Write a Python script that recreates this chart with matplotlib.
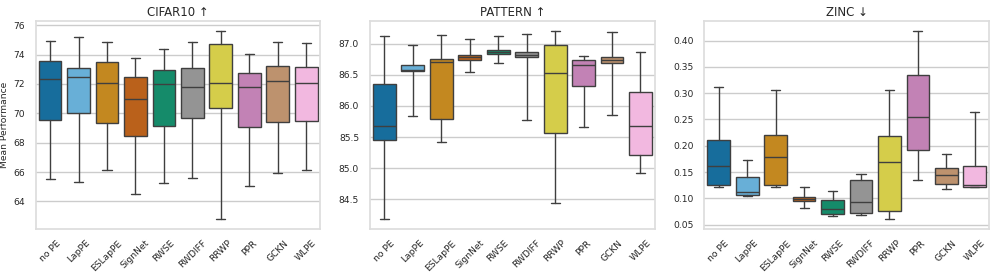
import matplotlib
matplotlib.use("Agg")
import matplotlib.pyplot as plt
import seaborn as sns

methods = ["no PE", "LapPE", "ESLapPE", "SignNet", "RWSE", "RWDIFF", "RRWP", "PPR", "GCKN", "WLPE"]

# (whislo, q1, med, q3, whishi)
cifar_low = [65.54, 65.31, 66.15, 64.54, 65.25, 65.61, 62.78, 65.06, 65.95, 66.11]
cifar_q1 = [69.55, 70.05, 69.37, 68.44, 69.16, 69.68, 70.34, 69.05, 69.41, 69.50]
cifar_med = [72.31, 72.50, 72.10, 71.00, 72.00, 71.77, 72.06, 71.81, 72.20, 72.10]
cifar_q3 = [73.58, 73.10, 73.49, 72.45, 72.97, 73.10, 74.73, 72.72, 73.24, 73.17]
cifar_high = [74.94, 75.18, 74.85, 73.80, 74.39, 74.85, 75.64, 74.05, 74.89, 74.78]

pattern_low = [84.18, 85.84, 85.42, 86.54, 86.69, 85.77, 84.44, 85.66, 85.85, 84.92]
pattern_q1 = [85.45, 86.56, 85.79, 86.74, 86.83, 86.78, 85.56, 86.32, 86.69, 85.22]
pattern_med = [85.68, 86.57, 86.70, 86.78, 86.86, 86.82, 86.53, 86.65, 86.74, 85.68]
pattern_q3 = [86.35, 86.66, 86.75, 86.81, 86.89, 86.87, 86.97, 86.74, 86.79, 86.23]
pattern_high = [87.13, 86.98, 87.14, 87.08, 87.12, 87.15, 87.21, 86.80, 87.19, 86.86]

zinc_low = [0.122, 0.104, 0.122, 0.0825, 0.067, 0.068, 0.060, 0.135, 0.117, 0.121]
zinc_q1 = [0.125, 0.107, 0.126, 0.094, 0.071, 0.072, 0.076, 0.191, 0.128, 0.122]
zinc_med = [0.161, 0.112, 0.179, 0.098, 0.080, 0.093, 0.169, 0.254, 0.145, 0.126]
zinc_q3 = [0.211, 0.141, 0.221, 0.103, 0.097, 0.135, 0.218, 0.334, 0.158, 0.162]
zinc_high = [0.312, 0.172, 0.306, 0.121, 0.114, 0.147, 0.305, 0.419, 0.184, 0.265]

titles = ["CIFAR10 ↑", "PATTERN ↑", "ZINC ↓"]

sns.set_theme(style="whitegrid")
plt.rcParams['font.family'] = ['DejaVu Sans']

base = sns.color_palette("colorblind")
colors = [base[0], base[9], base[1], base[3], base[2], base[7], base[8], base[4], base[5], base[6]]
colors = [sns.desaturate(c, 0.75) for c in colors]

datasets = [
    (cifar_low, cifar_q1, cifar_med, cifar_q3, cifar_high),
    (pattern_low, pattern_q1, pattern_med, pattern_q3, pattern_high),
    (zinc_low, zinc_q1, zinc_med, zinc_q3, zinc_high),
]

fig, axes = plt.subplots(1, 3, figsize=(9.96, 2.74), dpi=100)
fig.subplots_adjust(left=0.036, right=0.993, top=0.923, bottom=0.165, wspace=0.175)

line_col = "#3f3f3f"
for ax, (lo, q1, med, q3, hi), title in zip(axes, datasets, titles):
    stats = []
    for i, m in enumerate(methods):
        stats.append(dict(label=m, whislo=lo[i], q1=q1[i], med=med[i], q3=q3[i], whishi=hi[i], fliers=[]))
    bp = ax.bxp(stats, positions=range(len(methods)), widths=0.8, capwidths=0.32,
                patch_artist=True, showfliers=False,
                boxprops=dict(edgecolor=line_col, linewidth=1.0),
                whiskerprops=dict(color=line_col, linewidth=1.0),
                capprops=dict(color=line_col, linewidth=1.0),
                medianprops=dict(color=line_col, linewidth=1.0))
    for patch, c in zip(bp['boxes'], colors):
        patch.set_facecolor(c)
    ax.set_xlim(-0.5, len(methods) - 0.5)
    ax.set_xticks(range(len(methods)))
    ax.set_xticklabels(methods, rotation=45, fontsize=6.6)
    ax.tick_params(axis='y', labelsize=6.6, pad=2)
    ax.tick_params(axis='x', pad=1)
    ax.grid(axis='x', visible=False)
    ax.set_title(title, fontsize=8.5, pad=4)
    for s in ax.spines.values():
        s.set_color("#dddddd")

axes[0].set_ylabel("Mean Performance", fontsize=6.6, labelpad=3)
axes[0].set_yticks([64, 66, 68, 70, 72, 74, 76])
axes[1].set_yticks([84.5, 85.0, 85.5, 86.0, 86.5, 87.0])
axes[1].set_yticklabels(["84.5", "85.0", "85.5", "86.0", "86.5", "87.0"])
axes[2].set_yticks([0.05, 0.10, 0.15, 0.20, 0.25, 0.30, 0.35, 0.40])
axes[2].set_yticklabels(["0.05", "0.10", "0.15", "0.20", "0.25", "0.30", "0.35", "0.40"])

fig.savefig("out.png", dpi=100)
